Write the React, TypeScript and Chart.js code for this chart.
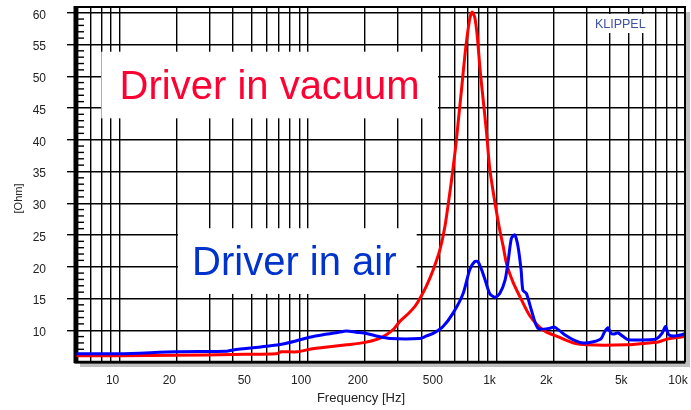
import React, { useEffect, useRef } from "react";
import { Chart, registerables } from "chart.js";

Chart.register(...registerables);

// ---- data ----
const airFreq = [5.8, 10, 20, 37, 40, 57, 70, 86, 102, 120, 141, 160, 180, 204, 230, 272, 392, 425, 461, 520, 588, 665, 720, 765, 797, 834, 870, 920, 980, 1040, 1110, 1155, 1200, 1250, 1300, 1350, 1380, 1440, 1530, 1660, 1920, 2020, 2170, 2300, 2560, 2880, 3260, 3590, 3750, 3900, 4050, 4220, 4400, 4700, 5000, 6500, 7100, 7550, 7880, 8200, 8700, 9600, 10000];
const airOhm = [6.3, 6.3, 6.6, 6.7, 6.9, 7.4, 7.7, 8.3, 8.9, 9.3, 9.6, 9.9, 9.7, 9.5, 9.1, 8.7, 8.7, 9.1, 9.5, 10.6, 12.7, 15.8, 19.5, 20.8, 20.8, 19.5, 17.9, 15.8, 15.2, 15.8, 17.9, 21.1, 24.5, 25.0, 23.2, 19.5, 16.3, 15.8, 13.2, 10.3, 10.3, 10.5, 9.9, 9.3, 8.5, 8.0, 8.2, 8.7, 9.8, 10.4, 9.5, 9.4, 9.6, 9.0, 8.5, 8.5, 8.7, 9.5, 10.6, 9.3, 9.1, 9.3, 9.5];

const vacFreq = [5.8, 10, 20, 40, 68, 72, 88, 102, 130, 160, 198, 234, 260, 285, 307, 340, 370, 392, 425, 461, 500, 532, 565, 588, 610, 632, 655, 678, 700, 723, 743, 766, 789, 817, 848, 886, 920, 982, 1040, 1085, 1130, 1226, 1330, 1500, 1770, 2150, 2560, 3010, 4900, 6000, 7300, 8000, 10000];
const vacOhm = [6.0, 6.0, 6.05, 6.2, 6.3, 6.6, 6.6, 7.0, 7.4, 7.7, 8.05, 8.6, 9.3, 10.2, 11.4, 12.6, 13.8, 15.0, 17.0, 19.5, 22.6, 26.3, 31.6, 35.5, 39.5, 44.0, 48.5, 53.0, 56.5, 59.2, 60.1, 59.3, 56.5, 51.2, 46.5, 41.0, 35.5, 30.0, 25.8, 23.2, 20.5, 17.5, 15.3, 12.3, 10.0, 8.9, 8.0, 7.7, 7.7, 7.9, 8.2, 8.6, 9.0];

const freqGrid = [6, 7, 8, 9, 10, 20, 30, 40, 50, 60, 70, 80, 90, 100, 200, 300, 400, 500, 600, 700, 800, 900, 1000, 2000, 3000, 4000, 5000, 6000, 7000, 8000, 9000, 10000];
const freqTickLabels: Record<number, string> = { 10: "10", 20: "20", 50: "50", 100: "100", 200: "200", 500: "500", 1000: "1k", 2000: "2k", 5000: "5k", 10000: "10k" };
const ohmTicks = [10, 15, 20, 25, 30, 35, 40, 45, 50, 55, 60];
const ohmMinorTicks = [6, 7, 8, 9, 11, 12, 13, 14, 16, 17, 18, 19, 21, 22, 23, 24, 26, 27, 28, 29, 31, 32, 33, 34, 36, 37, 38, 39, 41, 42, 43, 44, 46, 47, 48, 49, 51, 52, 53, 54, 56, 57, 58, 59];

// annotation boxes in data units: [fLeft, fRight, ohmTop, ohmBottom]
const labelBoxes = [
  { text: "Driver in vacuum", color: "#ff0033", size: 40, box: [8.0, 489, 53.86, 43.37], dx: 0 },
  { text: "Driver in air", color: "#0033cc", size: 40, box: [20.4, 377, 26.06, 15.72], dx: -3 },
  { text: "KLIPPEL", color: "#3f51a3", size: 12.5, box: [3080, 6680, 59.8, 56.8], dx: 0 },
];

const FONT = "'Liberation Sans', Arial, Helvetica, sans-serif";

const decorPlugin = {
  id: "decor",
  beforeDraw(chart: any) {
    const { ctx, chartArea: a } = chart;
    ctx.save();
    ctx.fillStyle = "#c0c0c0";
    ctx.fillRect(a.left + 5, a.top + 5, a.right - a.left, a.bottom - a.top);
    ctx.fillStyle = "#ffffff";
    ctx.fillRect(a.left, a.top, a.right - a.left, a.bottom - a.top);
    ctx.restore();
  },
  beforeDatasetsDraw(chart: any) {
    const { ctx, chartArea: a, scales } = chart;
    const xs = scales.x;
    const ys = scales.y;
    ctx.save();
    ctx.strokeStyle = "#000";
    ctx.lineWidth = 1.4;
    ohmMinorTicks.forEach((v) => {
      const y = ys.getPixelForValue(v);
      ctx.beginPath();
      ctx.moveTo(a.left + 1, y);
      ctx.lineTo(a.left + 9, y);
      ctx.stroke();
    });
    labelBoxes.forEach((lb) => {
      const x1 = xs.getPixelForValue(lb.box[0]);
      const x2 = xs.getPixelForValue(lb.box[1]);
      const y1 = ys.getPixelForValue(lb.box[2]);
      const y2 = ys.getPixelForValue(lb.box[3]);
      ctx.fillStyle = "#ffffff";
      ctx.fillRect(x1, y1, x2 - x1, y2 - y1);
      ctx.fillStyle = lb.color;
      ctx.font = `${lb.size}px ${FONT}`;
      ctx.textAlign = "center";
      ctx.textBaseline = "alphabetic";
      ctx.fillText(lb.text, (x1 + x2) / 2 + lb.dx, (y1 + y2) / 2 + (lb.size * 0.716) / 2);
    });
    ctx.restore();
  },
  afterDatasetsDraw(chart: any) {
    const { ctx, chartArea: a } = chart;
    ctx.save();
    ctx.strokeStyle = "#000";
    ctx.lineWidth = 2;
    ctx.beginPath();
    ctx.moveTo(a.left, a.top);
    ctx.lineTo(a.right, a.top);
    ctx.lineTo(a.right, a.bottom);
    ctx.stroke();
    ctx.lineWidth = 2.5;
    ctx.beginPath();
    ctx.moveTo(a.left, a.bottom);
    ctx.lineTo(a.right, a.bottom);
    ctx.stroke();
    ctx.lineWidth = 3;
    ctx.beginPath();
    ctx.moveTo(a.left, a.top - 1);
    ctx.lineTo(a.left, a.bottom + 1);
    ctx.stroke();
    ctx.fillStyle = "#222";
    ctx.font = `13px ${FONT}`;
    ctx.textAlign = "center";
    ctx.textBaseline = "middle";
    ctx.fillText("Frequency [Hz]", (a.left + a.right) / 2 - 19, 398);
    ctx.translate(18.5, (a.top + a.bottom) / 2 + 14);
    ctx.rotate(-Math.PI / 2);
    ctx.font = `11px ${FONT}`;
    ctx.fillText("[Ohm]", 0, 0);
    ctx.restore();
  },
};

const zeroPad = (s: any) => {
  s.paddingTop = 0;
  s.paddingBottom = 0;
  s.paddingLeft = 0;
  s.paddingRight = 0;
};

export default function App() {
  const ref = useRef<HTMLCanvasElement | null>(null);
  useEffect(() => {
    document.body.style.margin = "0";
    const canvas = ref.current;
    if (!canvas) return;
    const chart = new Chart(canvas, {
      type: "line",
      data: {
        datasets: [
          {
            label: "Driver in air",
            data: airFreq.map((f, i) => ({ x: f, y: airOhm[i] })),
            borderColor: "#0000ff",
            borderWidth: 3,
            pointRadius: 0,
            tension: 0.25,
            borderJoinStyle: "round",
          },
          {
            label: "Driver in vacuum",
            data: vacFreq.map((f, i) => ({ x: f, y: vacOhm[i] })),
            borderColor: "#ff0000",
            borderWidth: 3,
            pointRadius: 0,
            tension: 0.25,
            borderJoinStyle: "round",
          },
        ],
      },
      options: {
        animation: false,
        responsive: false,
        devicePixelRatio: 1,
        layout: { padding: { left: 0, right: 6, top: 7, bottom: 0 } },
        plugins: { legend: { display: false }, tooltip: { enabled: false } },
        scales: {
          x: {
            type: "logarithmic",
            min: 5.8,
            max: 10000,
            afterBuildTicks: (s: any) => {
              s.ticks = freqGrid.map((v) => ({ value: v }));
            },
            afterFit: (s: any) => {
              s.height = 48;
              zeroPad(s);
            },
            grid: { color: "#000", lineWidth: 1.4, drawTicks: false },
            border: { display: true, color: "#000", width: 2.5 },
            ticks: {
              autoSkip: false,
              maxRotation: 0,
              padding: 11,
              labelOffset: -7,
              color: "#222",
              font: { family: FONT, size: 12 },
              callback: (v: any) => freqTickLabels[Number(v)] ?? "",
            },
          },
          y: {
            type: "linear",
            min: 5,
            max: 60.9,
            afterBuildTicks: (s: any) => {
              s.ticks = ohmTicks.map((v) => ({ value: v }));
            },
            afterFit: (s: any) => {
              s.width = 75;
              zeroPad(s);
            },
            grid: { color: "#000", lineWidth: 1.4, drawTicks: true, tickLength: 8 },
            border: { display: true, color: "#000", width: 3 },
            ticks: {
              padding: 21,
              labelOffset: 2.5,
              color: "#222",
              font: { family: FONT, size: 12 },
              callback: (v: any) => String(v),
            },
          },
        },
      } as any,
      plugins: [decorPlugin],
    });
    return () => chart.destroy();
  }, []);
  return <canvas ref={ref} width={691} height={410} style={{ display: "block", width: 691, height: 410 }} />;
}
